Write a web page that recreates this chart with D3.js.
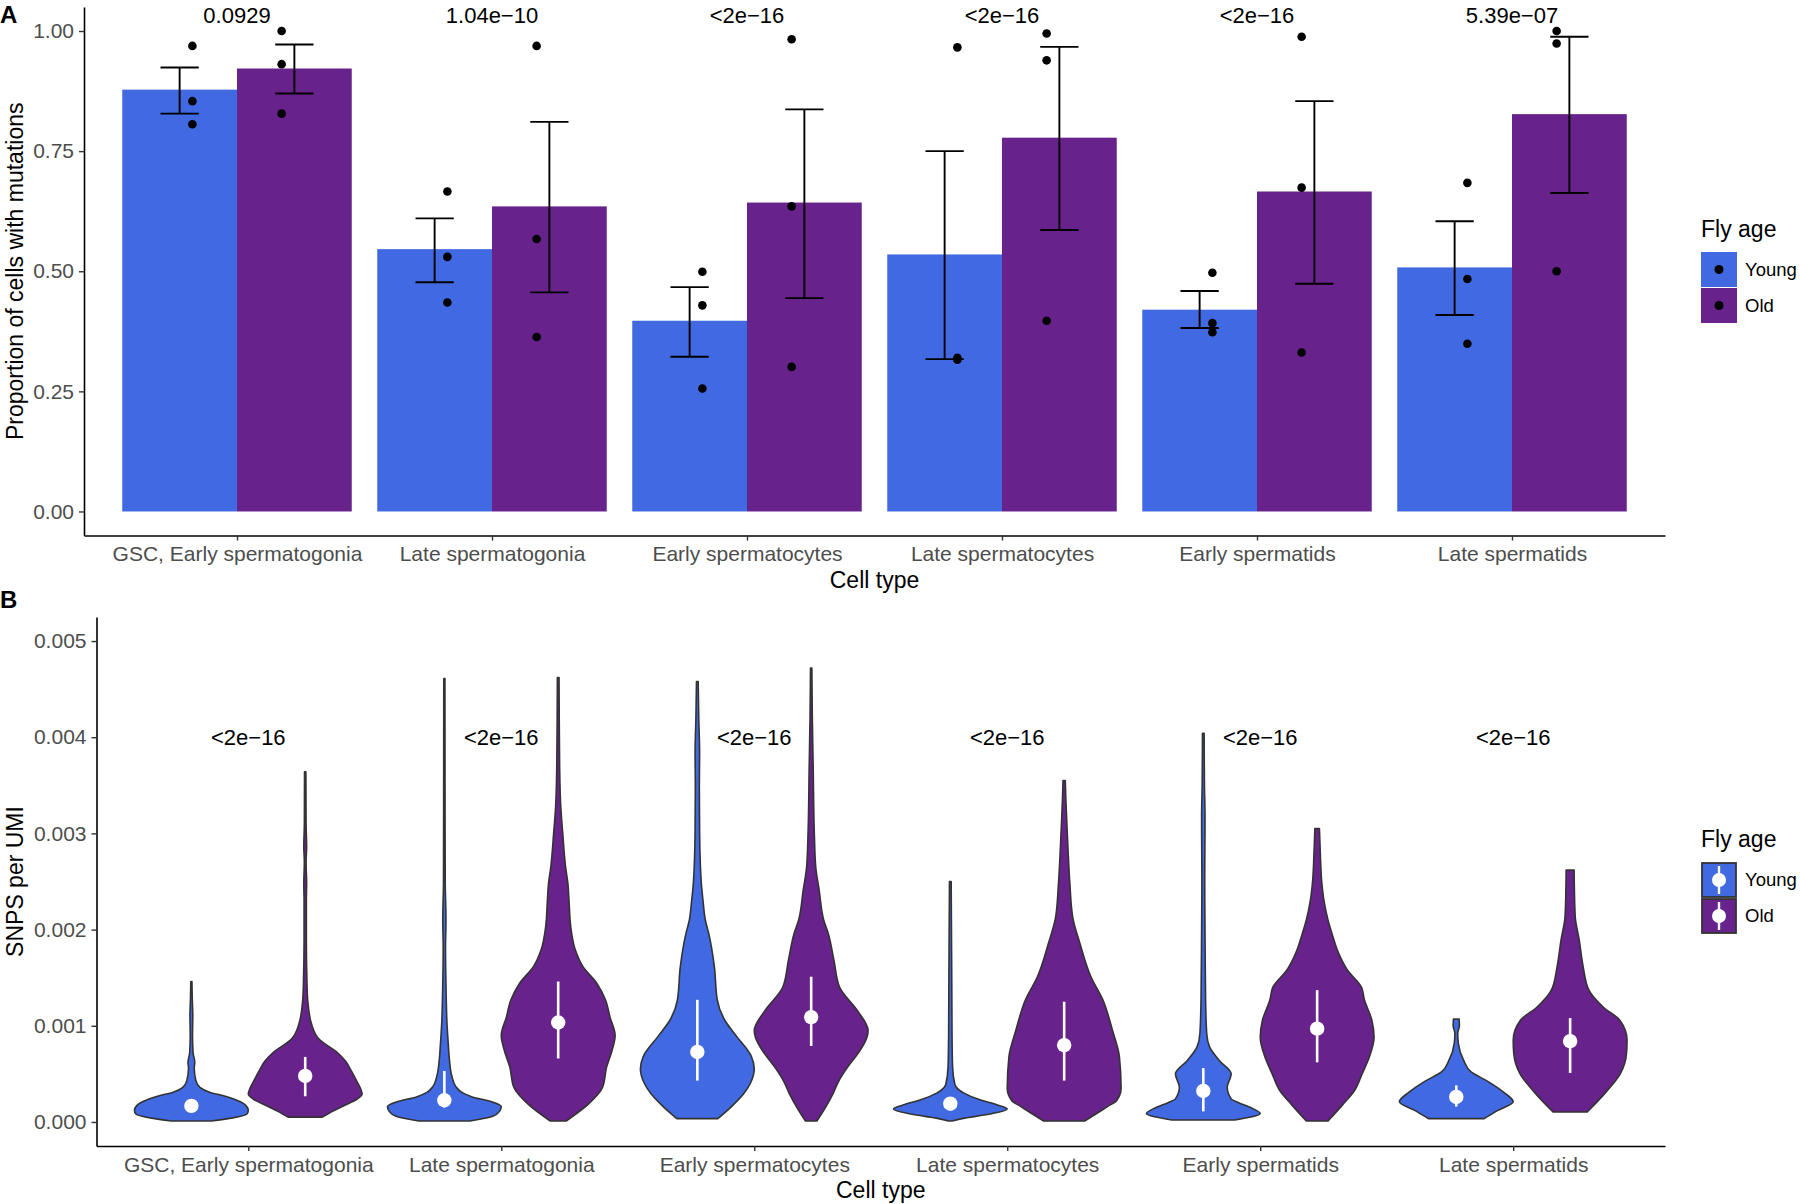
<!DOCTYPE html>
<html>
<head>
<meta charset="utf-8">
<script src="https://cdn.jsdelivr.net/npm/d3@7"></script>
<style>
  body { margin: 0; background: #fff; }
  svg text { font-family: "Liberation Sans", Arial, Helvetica, sans-serif; }
</style>
</head>
<body>
<div id="chart"></div>
<script>
// ---------- shared ----------
const cellTypes = ["GSC, Early spermatogonia", "Late spermatogonia", "Early spermatocytes",
                   "Late spermatocytes", "Early spermatids", "Late spermatids"];
const ages = ["Young", "Old"];
const ageColors = ["#4169E1", "#68228B"];

// ---------- panel A : proportion of cells with mutations ----------
const meanYoung = [0.878, 0.546, 0.397, 0.535, 0.420, 0.508];
const meanOld   = [0.922, 0.635, 0.643, 0.778, 0.666, 0.827];
const seLowYoung  = [0.828, 0.477, 0.322, 0.317, 0.382, 0.409];
const seHighYoung = [0.924, 0.610, 0.467, 0.750, 0.459, 0.604];
const seLowOld    = [0.870, 0.456, 0.444, 0.586, 0.474, 0.663];
const seHighOld   = [0.972, 0.811, 0.837, 0.967, 0.854, 0.988];
const replicatesYoung = [[0.969, 0.854, 0.806], [0.666, 0.530, 0.435], [0.499, 0.429, 0.256],
                         [0.966, 0.316, 0.320], [0.497, 0.392, 0.373], [0.684, 0.484, 0.349]];
const replicatesOld   = [[1.000, 0.931, 0.828], [0.969, 0.567, 0.363], [0.983, 0.635, 0.301],
                         [0.995, 0.939, 0.397], [0.988, 0.674, 0.331], [1.000, 0.974, 0.500]];
const pValuesA = ["0.0929", "1.04e\u221210", "<2e\u221216", "<2e\u221216", "<2e\u221216", "5.39e\u221207"];
const pLabelYA = 1.033;
const ticksA = [0, 0.25, 0.5, 0.75, 1];

// ---------- panel B : SNPs per UMI (violin outlines: [value, relative half width]) ----------
const gscYoung = [[0.00001,0.35],[0.00004,0.70],[0.00008,0.97],[0.00012,1.0],[0.00017,0.96],[0.00021,0.86],
  [0.00027,0.58],[0.00031,0.32],[0.00036,0.15],[0.00043,0.08],[0.00056,0.05],[0.00062,0.06],[0.00072,0.03],
  [0.0009,0.02],[0.0011,0.025],[0.0013,0.015],[0.00146,0.01]];
const gscOld = [[0.00005,0.30],[0.00011,0.48],[0.00016,0.65],[0.00024,0.92],[0.00029,1.0],[0.00035,0.97],
  [0.00042,0.91],[0.00053,0.81],[0.00063,0.71],[0.00073,0.55],[0.00085,0.26],[0.00102,0.11],[0.00126,0.045],
  [0.00147,0.03],[0.0019,0.02],[0.0023,0.02],[0.00248,0.025],[0.0027,0.015],[0.00286,0.025],[0.0031,0.015],[0.00364,0.012]];
const lateSpgYoung = [[0.00001,0.45],[0.00006,0.85],[0.00011,0.97],[0.00016,1.0],[0.00021,0.83],[0.00026,0.49],
  [0.00031,0.30],[0.00037,0.20],[0.00048,0.13],[0.00064,0.09],[0.0008,0.07],[0.00104,0.045],[0.00138,0.03],
  [0.0018,0.02],[0.0021,0.028],[0.0025,0.015],[0.0035,0.012],[0.00461,0.01]];
const lateSpgOld = [[0.00001,0.14],[0.00018,0.52],[0.00036,0.78],[0.00057,0.85],[0.00075,0.95],[0.0009,1.0],
  [0.00109,0.91],[0.00127,0.83],[0.00144,0.68],[0.00162,0.43],[0.00179,0.30],[0.00203,0.22],[0.0023,0.19],
  [0.00248,0.17],[0.00265,0.13],[0.003,0.08],[0.00328,0.045],[0.0037,0.025],[0.0042,0.018],[0.00462,0.015]];
const earlySpcYoung = [[0.000035,0.36],[0.00016,0.60],[0.00029,0.81],[0.0004,0.93],[0.00055,1.0],[0.00068,0.95],
  [0.00089,0.69],[0.00106,0.48],[0.00127,0.35],[0.00161,0.30],[0.00196,0.20],[0.0021,0.14],[0.0023,0.10],
  [0.00248,0.07],[0.003,0.04],[0.0035,0.035],[0.00383,0.04],[0.0042,0.025],[0.00458,0.015]];
const earlySpcOld = [[0.00001,0.10],[0.00015,0.25],[0.00029,0.38],[0.00042,0.48],[0.00057,0.64],[0.00071,0.82],
  [0.00088,0.98],[0.00095,1.0],[0.00116,0.81],[0.0014,0.50],[0.00168,0.40],[0.00196,0.30],[0.0021,0.22],
  [0.00241,0.14],[0.00265,0.08],[0.003,0.055],[0.00369,0.035],[0.0042,0.02],[0.00472,0.012]];
const lateSpcYoung = [[0.00001,0.03],[0.00004,0.25],[0.000055,0.42],[0.00009,0.76],[0.000135,1.0],[0.000177,0.83],
  [0.00023,0.52],[0.0003,0.24],[0.00039,0.08],[0.00057,0.04],[0.0009,0.03],[0.0015,0.025],[0.002,0.02],[0.0025,0.015]];
const lateSpcOld = [[0.00001,0.36],[0.00008,0.55],[0.00016,0.76],[0.00022,0.92],[0.00035,1.0],[0.00068,0.97],
  [0.00095,0.85],[0.00127,0.68],[0.00151,0.47],[0.00185,0.28],[0.00213,0.15],[0.00248,0.10],[0.003,0.055],
  [0.00335,0.03],[0.00355,0.02]];
const earlySptYoung = [[0.00002,0.55],[0.000087,1.0],[0.00015,0.83],[0.0002,0.62],[0.00024,0.49],[0.00036,0.42],
  [0.0005,0.49],[0.00064,0.28],[0.00078,0.11],[0.00092,0.06],[0.00127,0.04],[0.00196,0.03],[0.0025,0.025],
  [0.00317,0.03],[0.0035,0.02],[0.00404,0.015]];
const earlySptOld = [[0.00001,0.19],[0.00018,0.45],[0.00033,0.66],[0.0005,0.79],[0.00068,0.92],[0.00088,1.0],
  [0.00106,0.96],[0.00127,0.83],[0.0014,0.78],[0.00158,0.53],[0.00175,0.38],[0.00196,0.26],[0.0021,0.19],
  [0.0023,0.12],[0.0025,0.08],[0.0028,0.055],[0.00305,0.04]];
const lateSptYoung = [[0.000035,0.49],[0.00012,0.73],[0.00021,1.0],[0.00031,0.83],[0.00042,0.56],[0.00052,0.26],
  [0.00064,0.13],[0.00082,0.035],[0.00092,0.025],[0.001,0.055],[0.00107,0.05]];
const lateSptOld = [[0.000104,0.30],[0.00031,0.63],[0.0005,0.88],[0.00071,0.99],[0.00085,1.0],[0.00106,0.87],
  [0.00119,0.59],[0.00137,0.33],[0.00161,0.23],[0.00189,0.16],[0.00213,0.09],[0.0024,0.075],[0.00262,0.07]];

const medianYoung = [0.000167, 0.000226, 0.000728, 0.00019, 0.000323, 0.00026];
const rangeLowYoung  = [0.00012, 0.00015, 0.00043, 0.00014, 0.00011, 0.00016];
const rangeHighYoung = [0.00021, 0.00053, 0.00127, 0.00024, 0.00056, 0.00038];
const medianOld = [0.000479, 0.001034, 0.00109, 0.000798, 0.00097, 0.00084];
const rangeLowOld  = [0.000267, 0.00066, 0.00079, 0.00043, 0.00062, 0.00051];
const rangeHighOld = [0.000676, 0.00146, 0.00151, 0.00125, 0.00137, 0.00108];
const pValuesB = ["<2e\u221216", "<2e\u221216", "<2e\u221216", "<2e\u221216", "<2e\u221216", "<2e\u221216"];
const pLabelYB = 0.004;
const ticksB = [0, 0.001, 0.002, 0.003, 0.004, 0.005];

// ---------- drawing ----------
const W = 1800, H = 1204;
const svg = d3.select("#chart").append("svg")
  .attr("width", W).attr("height", H)
  .attr("viewBox", `0 0 ${W} ${H}`);

const styleAxis = g => {
  g.attr("font-family", null).attr("font-size", null);
  g.select(".domain").attr("stroke", "#000").attr("stroke-width", 1.6);
  g.selectAll(".tick line").attr("stroke", "#333").attr("stroke-width", 1.4);
  g.selectAll(".tick text").attr("fill", "#4D4D4D").style("font-size", "21px");
};

// ===== Panel A =====
const xA = d3.scalePoint().domain(cellTypes).range([84, 1665]).padding(0.6);
const yA = d3.scaleLinear().domain([-0.05, 1.05]).range([535.5, 7]);
const stepA = xA.step();

const barRows = cellTypes.flatMap((c, i) => [
  { cat: c, age: 0, mean: meanYoung[i], lo: seLowYoung[i], hi: seHighYoung[i], pts: replicatesYoung[i] },
  { cat: c, age: 1, mean: meanOld[i], lo: seLowOld[i], hi: seHighOld[i], pts: replicatesOld[i] }
]);
const barX = d => xA(d.cat) + (d.age === 0 ? -0.45 : 0) * stepA;
const barMid = d => xA(d.cat) + (d.age === 0 ? -0.225 : 0.225) * stepA;
const ptX = d => xA(d.cat) + (d.age === 0 ? -0.175 : 0.175) * stepA;

const panelA = svg.append("g");
panelA.selectAll("rect.bar").data(barRows).join("rect")
  .attr("class", "bar")
  .attr("x", barX)
  .attr("y", d => yA(d.mean))
  .attr("width", 0.45 * stepA)
  .attr("height", d => yA(0) - yA(d.mean))
  .attr("fill", d => ageColors[d.age]);

// error bars
const capW = 0.075 * stepA;
const eb = panelA.selectAll("g.err").data(barRows).join("g").attr("class", "err")
  .attr("stroke", "#000").attr("stroke-width", 1.9);
eb.append("line").attr("x1", barMid).attr("x2", barMid).attr("y1", d => yA(d.lo)).attr("y2", d => yA(d.hi));
eb.append("line").attr("x1", d => barMid(d) - capW).attr("x2", d => barMid(d) + capW)
  .attr("y1", d => yA(d.hi)).attr("y2", d => yA(d.hi));
eb.append("line").attr("x1", d => barMid(d) - capW).attr("x2", d => barMid(d) + capW)
  .attr("y1", d => yA(d.lo)).attr("y2", d => yA(d.lo));

// replicate points
panelA.selectAll("circle.rep")
  .data(barRows.flatMap(d => d.pts.map(v => ({ cat: d.cat, age: d.age, v }))))
  .join("circle").attr("class", "rep")
  .attr("cx", ptX).attr("cy", d => yA(d.v)).attr("r", 4.3).attr("fill", "#000");

// p values
panelA.selectAll("text.pval").data(pValuesA).join("text")
  .attr("class", "pval")
  .attr("x", (d, i) => xA(cellTypes[i]))
  .attr("y", yA(pLabelYA))
  .attr("dy", "0.36em")
  .attr("text-anchor", "middle")
  .style("font-size", "22px")
  .text(d => d);

// axes
panelA.append("g").attr("transform", `translate(0,${yA.range()[0]})`)
  .call(d3.axisBottom(xA).tickSize(5).tickPadding(6).tickSizeOuter(0)).call(styleAxis);
panelA.append("g").attr("transform", `translate(${xA.range()[0]},0)`)
  .call(d3.axisLeft(yA).tickValues(ticksA).tickFormat(d3.format(".2f")).tickSize(5).tickPadding(5).tickSizeOuter(0))
  .call(styleAxis);

panelA.append("text").attr("x", (xA.range()[0] + xA.range()[1]) / 2).attr("y", 588)
  .attr("text-anchor", "middle").style("font-size", "23px").text("Cell type");
panelA.append("text").attr("transform", `translate(23,${(yA.range()[0] + yA.range()[1]) / 2}) rotate(-90)`)
  .attr("text-anchor", "middle").style("font-size", "23px").text("Proportion of cells with mutations");
svg.append("text").attr("x", 0).attr("y", 23).style("font-size", "24px").style("font-weight", "bold").text("A");

// legend A
const legA = svg.append("g").attr("transform", "translate(1701,0)");
legA.append("text").attr("x", 0).attr("y", 237).style("font-size", "23px").text("Fly age");
ages.forEach((a, i) => {
  const y0 = 252 + i * 36;
  legA.append("rect").attr("x", 0).attr("y", y0).attr("width", 36).attr("height", 35).attr("fill", ageColors[i]);
  legA.append("circle").attr("cx", 18).attr("cy", y0 + 17.5).attr("r", 4.5).attr("fill", "#000");
  legA.append("text").attr("x", 44).attr("y", y0 + 17.5).attr("dy", "0.35em")
    .style("font-size", "18.5px").text(a);
});

// ===== Panel B =====
const xB = d3.scalePoint().domain(cellTypes).range([96.5, 1665]).padding(0.6);
const yB = d3.scaleLinear().domain([-0.00025, 0.00525]).range([1146, 617]);
const stepB = xB.step();
const wB = d3.scaleLinear().domain([0, 1]).range([0, 0.225 * stepB]);

const violinsYoung = [gscYoung, lateSpgYoung, earlySpcYoung, lateSpcYoung, earlySptYoung, lateSptYoung];
const violinsOld = [gscOld, lateSpgOld, earlySpcOld, lateSpcOld, earlySptOld, lateSptOld];
const violinRows = cellTypes.flatMap((c, i) => [
  { cat: c, age: 0, shape: violinsYoung[i], med: medianYoung[i], lo: rangeLowYoung[i], hi: rangeHighYoung[i] },
  { cat: c, age: 1, shape: violinsOld[i], med: medianOld[i], lo: rangeLowOld[i], hi: rangeHighOld[i] }
]);
const vCenter = d => xB(d.cat) + (d.age === 0 ? -0.225 : 0.225) * stepB;

const panelB = svg.append("g");
panelB.selectAll("path.violin").data(violinRows).join("path")
  .attr("class", "violin")
  .attr("d", d => d3.area()
      .y(p => yB(p[0]))
      .x0(p => vCenter(d) - wB(p[1]))
      .x1(p => vCenter(d) + wB(p[1]))
      .curve(d3.curveMonotoneY)(d.shape))
  .attr("fill", d => ageColors[d.age])
  .attr("stroke", "#333")
  .attr("stroke-width", 1.6)
  .attr("stroke-linejoin", "round");

panelB.selectAll("line.range").data(violinRows).join("line")
  .attr("class", "range")
  .attr("x1", vCenter).attr("x2", vCenter)
  .attr("y1", d => yB(d.lo)).attr("y2", d => yB(d.hi))
  .attr("stroke", "#fff").attr("stroke-width", 2.6);
panelB.selectAll("circle.med").data(violinRows).join("circle")
  .attr("class", "med")
  .attr("cx", vCenter).attr("cy", d => yB(d.med)).attr("r", 7.2).attr("fill", "#fff");

panelB.selectAll("text.pval").data(pValuesB).join("text")
  .attr("class", "pval")
  .attr("x", (d, i) => xB(cellTypes[i]))
  .attr("y", yB(pLabelYB))
  .attr("dy", "0.36em")
  .attr("text-anchor", "middle")
  .style("font-size", "22px")
  .text(d => d);

panelB.append("g").attr("transform", `translate(0,${yB.range()[0]})`)
  .call(d3.axisBottom(xB).tickSize(5).tickPadding(6).tickSizeOuter(0)).call(styleAxis);
panelB.append("g").attr("transform", `translate(${xB.range()[0]},0)`)
  .call(d3.axisLeft(yB).tickValues(ticksB).tickFormat(d3.format(".3f")).tickSize(5).tickPadding(5).tickSizeOuter(0))
  .call(styleAxis);

panelB.append("text").attr("x", (xB.range()[0] + xB.range()[1]) / 2).attr("y", 1198)
  .attr("text-anchor", "middle").style("font-size", "23px").text("Cell type");
panelB.append("text").attr("transform", `translate(23,${(yB.range()[0] + yB.range()[1]) / 2}) rotate(-90)`)
  .attr("text-anchor", "middle").style("font-size", "23px").text("SNPS per UMI");
svg.append("text").attr("x", 0).attr("y", 608).style("font-size", "24px").style("font-weight", "bold").text("B");

// legend B
const legB = svg.append("g").attr("transform", "translate(1701,0)");
legB.append("text").attr("x", 0).attr("y", 847).style("font-size", "23px").text("Fly age");
ages.forEach((a, i) => {
  const y0 = 862 + i * 36;
  legB.append("rect").attr("x", 1).attr("y", y0 + 1).attr("width", 34).attr("height", 34)
    .attr("fill", ageColors[i]).attr("stroke", "#333").attr("stroke-width", 1.8);
  legB.append("line").attr("x1", 18).attr("x2", 18).attr("y1", y0 + 4).attr("y2", y0 + 32)
    .attr("stroke", "#fff").attr("stroke-width", 2.4);
  legB.append("circle").attr("cx", 18).attr("cy", y0 + 18).attr("r", 7).attr("fill", "#fff");
  legB.append("text").attr("x", 44).attr("y", y0 + 18).attr("dy", "0.35em")
    .style("font-size", "18.5px").text(a);
});
</script>
</body>
</html>
